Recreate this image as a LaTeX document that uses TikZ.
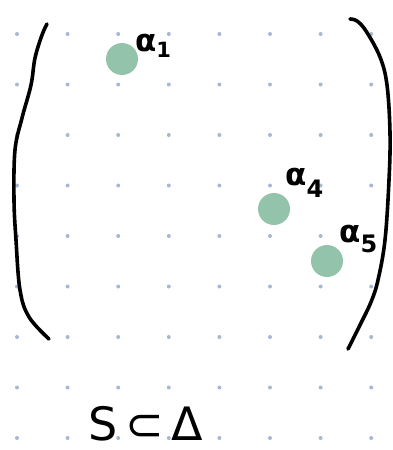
\documentclass[tikz,border=0pt]{standalone}
\usepackage{fontspec}
\setmainfont{DejaVu Sans}
\begin{document}
\begin{tikzpicture}[x=1pt,y=-1pt,
  griddot/.style={fill=gridc},
  pt/.style={circle,fill=ptc,inner sep=0pt,minimum size=32pt},
  bracket/.style={line width=3.6pt,line cap=round,line join=round},
  lbl/.style={inner sep=0pt,font=\fontsize{31}{31}\selectfont\bfseries}]
\definecolor{gridc}{HTML}{A9B6D4}
\definecolor{ptc}{HTML}{93C4AB}
\useasboundingbox (0,0) rectangle (393,450);
\foreach \i in {0,...,7}
  \foreach \j in {0,...,8}
    \fill[griddot] (17+50.6*\i, 34+50.5*\j) circle (2);
% brackets
\draw[bracket] plot[smooth,tension=0.6] coordinates {(47,24) (42,35) (35,58) (31,85) (22,118) (15,150) (14,200) (16,240) (20,290) (29,317) (49,339)};
\draw[bracket] plot[smooth,tension=0.6] coordinates {(350,19) (357,21) (366,31) (380,57) (387,85) (390,133) (389,180) (385,240) (378,280) (371,302) (360,325) (348,349)};
% points
\node[pt] (a1) at (122,59) {};
\node[pt] (a4) at (274,209) {};
\node[pt] (a5) at (327,261) {};
% labels
\node[lbl,anchor=south west] (l1) at (135,58) {α\raisebox{-6pt}{\fontsize{21}{21}\selectfont 1}};
\node[lbl,anchor=south west] (l4) at (285,198) {α\raisebox{-12pt}{\fontsize{24}{24}\selectfont 4}};
\node[lbl,anchor=south west] (l5) at (339,253) {α\raisebox{-10pt}{\fontsize{24}{24}\selectfont 5}};
\node[inner sep=0pt,anchor=base west,font=\fontsize{46}{46}\selectfont] (t) at (88,440) {S\,⊂\,Δ};
\end{tikzpicture}
\end{document}
